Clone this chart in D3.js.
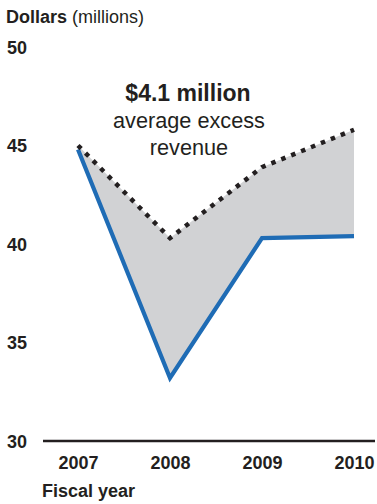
<!DOCTYPE html>
<html>
<head>
<meta charset="utf-8">
<script src="https://cdn.jsdelivr.net/npm/d3@7/dist/d3.min.js"></script>
<style>
  html, body { margin: 0; padding: 0; background: #fff; }
  svg { display: block; font-family: "Liberation Sans", Arial, Helvetica, sans-serif; }
</style>
</head>
<body>
<svg id="chart" width="377" height="504"></svg>
<script>
// Fiscal years on the x axis
const years = ["2007", "2008", "2009", "2010"];
// Actual revenue (solid blue line), $ millions
const actual = [44.8, 33.2, 40.3, 40.4];
// Projected revenue (dotted line), $ millions
const projected = [45.0, 40.3, 43.9, 45.8];
// Y axis tick values
const yTicks = [30, 35, 40, 45, 50];

const svg = d3.select("#chart");

const x = d3.scalePoint().domain(years).range([78, 354]);
const y = d3.scaleLinear().domain([30, 50]).range([441, 47]);

const rows = years.map((yr, i) => ({ yr, a: actual[i], p: projected[i] }));

// Shaded gap between projected and actual revenue
svg.append("path")
  .datum(rows)
  .attr("fill", "#d1d2d4")
  .attr("d", d3.area()
    .x(d => x(d.yr))
    .y0(d => y(d.a))
    .y1(d => y(d.p)));

// Actual revenue line
svg.append("path")
  .datum(rows)
  .attr("fill", "none")
  .attr("stroke", "#1f6cb5")
  .attr("stroke-width", 4.2)
  .attr("stroke-linejoin", "miter")
  .attr("d", d3.line().x(d => x(d.yr)).y(d => y(d.a)));

// Projected revenue line (dotted)
svg.append("path")
  .datum(rows)
  .attr("fill", "none")
  .attr("stroke", "#231f20")
  .attr("stroke-width", 4.5)
  .attr("stroke-dasharray", "4.5,6.2")
  .attr("d", d3.line().x(d => x(d.yr)).y(d => y(d.p)));

// Baseline
svg.append("line")
  .attr("x1", 43).attr("x2", 375)
  .attr("y1", y(30)).attr("y2", y(30))
  .attr("stroke", "#231f20")
  .attr("stroke-width", 2.5);

// Y axis labels
const yAxis = d3.axisLeft(y).tickValues(yTicks).tickSize(0).tickPadding(0);
const yg = svg.append("g").attr("transform", "translate(7,0)").call(yAxis);
yg.select(".domain").remove();
yg.selectAll("text")
  .attr("text-anchor", "start")
  .attr("x", 0)
  .attr("dy", "0.35em")
  .attr("fill", "#231f20")
  .style("font-size", "18px")
  .style("font-weight", "bold")
  .style("font-family", "'Liberation Sans', Arial, sans-serif");

// X axis labels
const xAxis = d3.axisBottom(x).tickSize(0).tickPadding(0);
const xg = svg.append("g").attr("transform", "translate(0,455)").call(xAxis);
xg.select(".domain").remove();
xg.selectAll("text")
  .attr("dy", "0.8em")
  .attr("fill", "#231f20")
  .style("font-size", "18px")
  .style("font-weight", "bold")
  .style("font-family", "'Liberation Sans', Arial, sans-serif");

// Axis titles
const unit = svg.append("text").attr("x", 6).attr("y", 23)
  .attr("fill", "#231f20").style("font-size", "18px");
unit.append("tspan").style("font-weight", "bold").text("Dollars");
unit.append("tspan").text(" (millions)");

svg.append("text").attr("x", 42).attr("y", 497)
  .attr("fill", "#231f20")
  .style("font-size", "18px").style("font-weight", "bold")
  .text("Fiscal year");

// Annotation: average excess of projected over actual
const avgExcess = d3.mean(rows, d => d.p - d.a);
const ann = svg.append("g").attr("text-anchor", "middle").attr("fill", "#231f20");
ann.append("text").attr("x", 188).attr("y", 101)
  .style("font-size", "23px").style("font-weight", "bold")
  .text("$" + d3.format(".1f")(avgExcess) + " million");
ann.append("text").attr("x", 189).attr("y", 128)
  .style("font-size", "21.7px")
  .text("average excess");
ann.append("text").attr("x", 189).attr("y", 155)
  .style("font-size", "21.7px")
  .text("revenue");
</script>
</body>
</html>
